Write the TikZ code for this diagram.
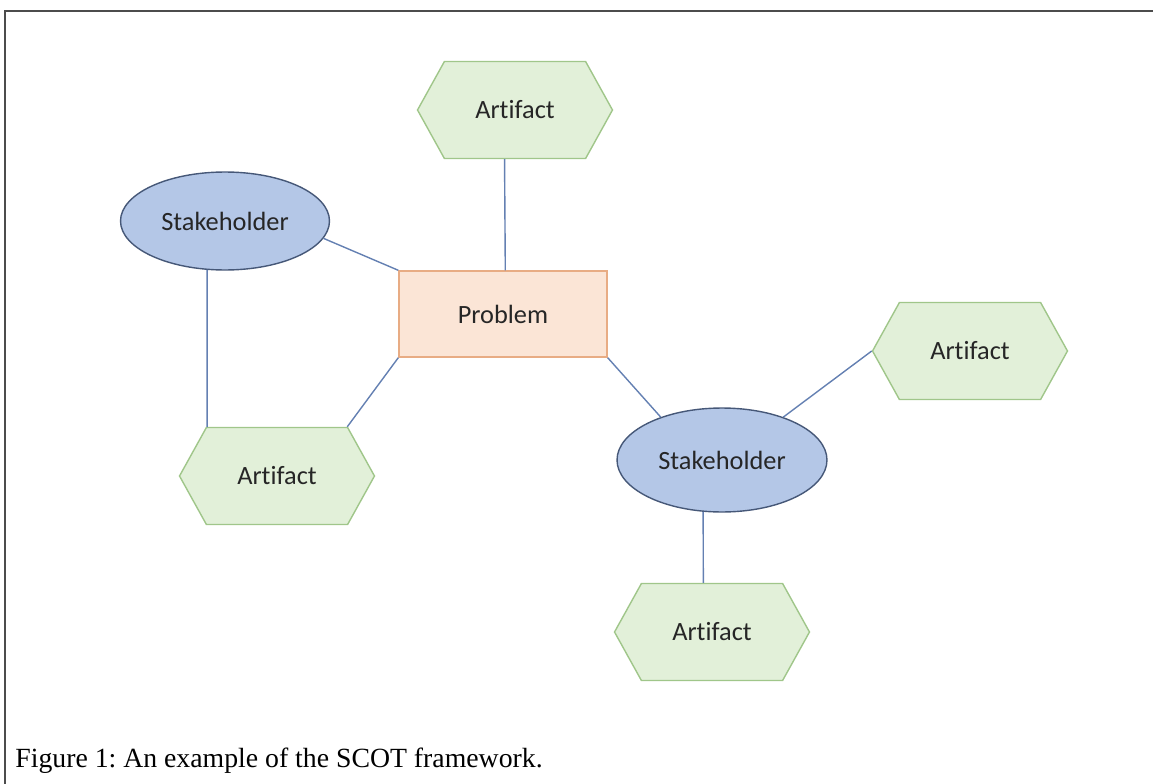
\documentclass[tikz,border=0pt]{standalone}
\usepackage{fontspec}
\setmainfont{Liberation Serif}
\newfontfamily\boxfont[Ligatures = NoCommon]{Carlito}
\usetikzlibrary{shapes.geometric, shapes.symbols}

\definecolor{stakefill}{RGB}{180,199,231}
\definecolor{stakeline}{RGB}{70,88,120}
\definecolor{probfill}{RGB}{251,229,214}
\definecolor{probline}{RGB}{232,172,132}
\definecolor{artfill}{RGB}{226,240,217}
\definecolor{artline}{RGB}{160,198,138}
\definecolor{linkcol}{RGB}{100,128,178}

\begin{document}
\frenchspacing
\begin{tikzpicture}[x = 0.02cm, y = -0.02cm, every node/.style = {inner sep = 0pt,
	font = \boxfont\fontsize{15}{18}\selectfont, text = black!85},
	stake/.style = {ellipse, draw = stakeline, fill = stakefill, line width = 0.8pt},
	problem/.style = {rectangle, draw = probline, fill = probfill, line width = 0.8pt,
	minimum width = 4.16cm, minimum height = 1.72cm},
	artifact/.style = {signal, signal to = east and west, signal pointer angle = 122,
	draw = artline, fill = artfill, line width = 0.8pt,
	minimum width = 3.9cm, minimum height = 1.94cm},
	link/.style = {draw = linkcol, line width = 0.8pt}]

	\useasboundingbox (0, 0) rectangle (1153, 784);
	\draw [black!70, line width = 1.1pt] (1153, 11) -- (5, 11) -- (5, 784);

		\node (SH1)  at (225, 221) [stake, minimum width = 4.18cm, minimum height = 1.96cm] {Stakeholder};
		\node (SH2)  at (722, 460) [stake, minimum width = 4.2cm, minimum height = 2.08cm] {Stakeholder};
		\node (PRB)  at (503, 314) [problem] {Problem};
		\node (ART1) at (515, 110) [artifact] {Artifact};
		\node (ART2) at (277, 476) [artifact] {Artifact};
		\node (ART3) at (970, 351) [artifact] {Artifact};
		\node (ART4) at (712, 632) [artifact] {Artifact};

	    \foreach \from/\to in {ART1.258/PRB.87, SH1.350/PRB.north west, SH1.250/ART2.145,
	    	PRB.south west/ART2.35, PRB.south east/SH2.145, SH2.35/ART3.west, SH2.250/ART4.100}
	    	\path (\from) edge [link] (\to);

		\node (CAP) at (15, 767) [anchor = base west, text = black,
			font = \rmfamily\fontsize{15.8}{19}\selectfont]
			{Figure 1: An example of the SCOT framework.};

	\end{tikzpicture}
\end{document}
